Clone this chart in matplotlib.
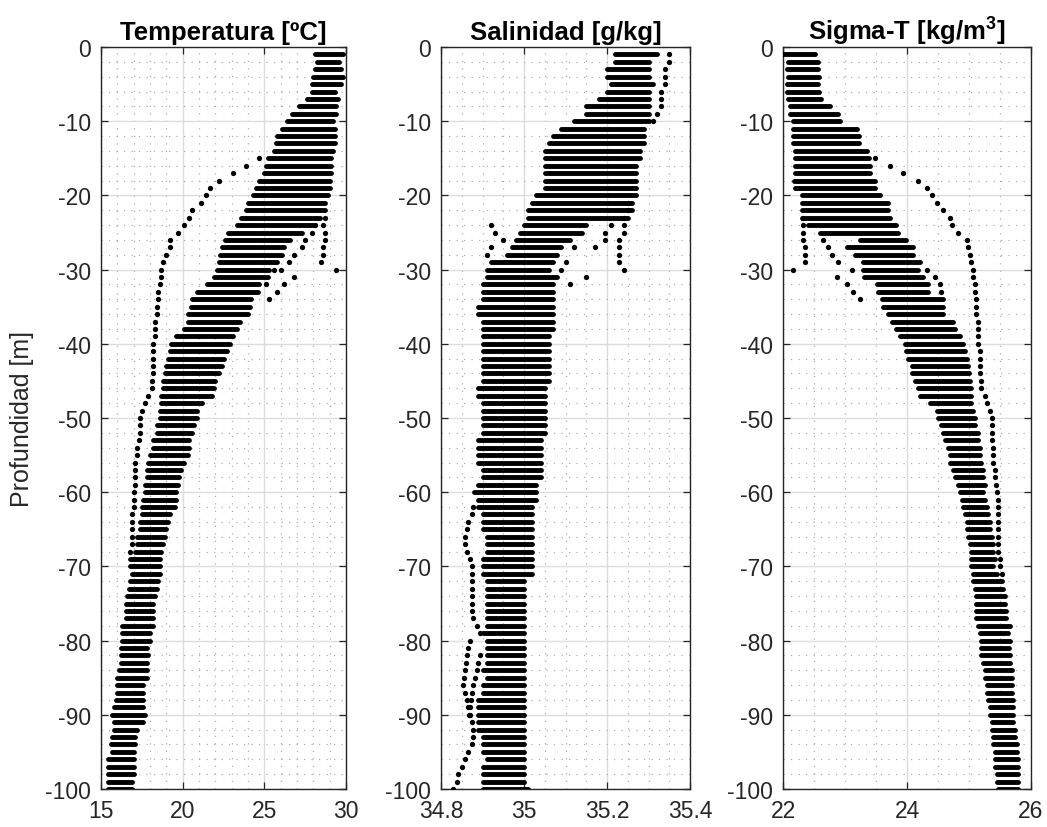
"""
CTD profiles: temperature, salinity and sigma-T vs depth (1 m bins).
Each panel: dense band of casts + a few stray casts drawn as dots.
"""

import numpy as np
import matplotlib
matplotlib.use("Agg")
import matplotlib.pyplot as plt
from matplotlib.ticker import MultipleLocator

plt.rcParams["font.family"] = ["Liberation Sans", "DejaVu Sans"]
plt.rcParams["axes.unicode_minus"] = False
plt.rcParams["mathtext.fontset"] = "custom"
plt.rcParams["mathtext.rm"] = "Liberation Sans"
plt.rcParams["mathtext.bf"] = "Liberation Sans:bold"

# 1 m depth bins, -1 .. -100 m
depth = np.arange(-1, -101, -1)

# ---- temperature [degC]: band edges per bin
temp_left = [28.1, 28.2, 28.1, 28.0, 27.9, 27.9, 27.6, 27.1, 26.7, 26.4,
             26.1, 25.8, 25.7, 25.6, 25.2, 25.1, 25.0, 24.7, 24.5, 24.3,
             24.0, 23.9, 23.6, 23.3, 22.8, 22.6, 22.4, 22.3, 22.2, 22.1,
             21.9, 21.5, 20.9, 20.6, 20.5, 20.3, 20.3, 20.1, 19.6, 19.3,
             19.2, 19.1, 19.0, 18.9, 18.8, 18.8, 18.7, 18.7, 18.6, 18.6,
             18.4, 18.4, 18.2, 18.2, 18.0, 17.9, 17.8, 17.8, 17.7, 17.7,
             17.6, 17.5, 17.5, 17.4, 17.4, 17.2, 17.2, 17.1, 16.8, 16.8,
             16.9, 16.8, 16.7, 16.6, 16.5, 16.5, 16.5, 16.3, 16.3, 16.3,
             16.2, 16.2, 16.2, 16.1, 16.0, 16.0, 16.0, 15.9, 15.8, 15.7,
             15.8, 15.8, 15.7, 15.6, 15.7, 15.4, 15.4, 15.4, 15.4, 15.4]
temp_right = [29.8, 29.6, 29.7, 29.8, 29.7, 29.3, 29.5, 29.4, 29.4, 29.2,
              29.3, 29.3, 29.3, 29.2, 29.1, 29.1, 29.1, 29.0, 29.0, 28.9,
              28.7, 28.7, 28.4, 28.1, 27.3, 26.6, 26.2, 26.1, 25.8, 25.3,
              25.2, 24.7, 24.6, 24.2, 24.1, 24.0, 23.5, 23.3, 23.1, 22.9,
              22.7, 22.5, 22.4, 22.2, 22.0, 21.9, 21.8, 21.2, 20.9, 20.9,
              20.7, 20.6, 20.4, 20.4, 20.3, 20.1, 19.9, 19.8, 19.7, 19.6,
              19.6, 19.5, 19.2, 19.1, 19.0, 18.9, 18.8, 18.7, 18.6, 18.6,
              18.6, 18.5, 18.4, 18.3, 18.2, 18.2, 18.2, 18.2, 18.0, 18.0,
              17.8, 17.9, 17.8, 17.8, 17.8, 17.6, 17.6, 17.6, 17.6, 17.7,
              17.6, 17.2, 17.1, 17.1, 17.0, 17.0, 17.0, 17.0, 16.9, 16.9]
# stray cast, -15 .. -68 m
temp_stray = [24.7, 23.9, 23.1, 22.2, 21.7, 21.4, 21.1, 20.6, 20.4, 20.1,
              19.7, 19.2, 19.2, 19.0, 18.8, 18.7, 18.7, 18.6, 18.5, 18.5,
              18.4, 18.4, 18.3, 18.3, 18.3, 18.2, 18.2, 18.2, 18.2, 18.2,
              18.1, 18.1, 17.9, 17.7, 17.5, 17.4, 17.4, 17.4, 17.3, 17.2,
              17.2, 17.1, 17.1, 17.1, 17.1, 17.0, 17.0, 17.0, 16.9, 16.9,
              16.9, 16.9, 16.9, 16.8]
temp_stray_depth = depth[14:68]
temp_extra_depth = [-23, -24, -25, -26, -27, -28, -29, -30,
                    -24, -25, -26, -27, -28, -29, -30,
                    -31, -32, -33, -34, -30, -32]
temp_extra_value = [28.7, 28.6, 28.7, 28.7, 28.6, 28.6, 28.5, 29.4,
                    28.1, 27.9, 27.5, 27.3, 26.8, 26.5, 26.0,
                    26.8, 26.2, 25.8, 25.3, 25.6, 25.1]

# ---- salinity [g/kg]
sal_left = [35.22, 35.22, 35.20, 35.20, 35.21, 35.20, 35.18, 35.15, 35.15, 35.12,
            35.09, 35.07, 35.06, 35.05, 35.05, 35.05, 35.05, 35.05, 35.05, 35.03,
            35.02, 35.01, 35.01, 35.00, 34.99, 34.98, 34.97, 34.96, 34.92, 34.91,
            34.91, 34.90, 34.90, 34.90, 34.89, 34.89, 34.90, 34.90, 34.90, 34.90,
            34.90, 34.90, 34.90, 34.90, 34.90, 34.89, 34.89, 34.90, 34.90, 34.90,
            34.90, 34.90, 34.89, 34.89, 34.89, 34.89, 34.90, 34.90, 34.89, 34.88,
            34.89, 34.89, 34.90, 34.90, 34.90, 34.91, 34.91, 34.91, 34.90, 34.90,
            34.90, 34.91, 34.91, 34.91, 34.91, 34.91, 34.91, 34.91, 34.90, 34.91,
            34.91, 34.91, 34.91, 34.90, 34.91, 34.90, 34.90, 34.89, 34.89, 34.89,
            34.89, 34.89, 34.90, 34.90, 34.90, 34.91, 34.90, 34.90, 34.90, 34.90]
sal_right = [35.32, 35.30, 35.30, 35.30, 35.31, 35.30, 35.30, 35.30, 35.30, 35.30,
             35.29, 35.29, 35.29, 35.28, 35.28, 35.27, 35.27, 35.27, 35.27, 35.27,
             35.26, 35.26, 35.25, 35.15, 35.14, 35.11, 35.09, 35.08, 35.07, 35.06,
             35.08, 35.07, 35.07, 35.07, 35.07, 35.07, 35.07, 35.07, 35.06, 35.06,
             35.06, 35.06, 35.06, 35.06, 35.06, 35.05, 35.05, 35.05, 35.05, 35.05,
             35.05, 35.05, 35.04, 35.04, 35.04, 35.04, 35.04, 35.04, 35.03, 35.03,
             35.03, 35.02, 35.02, 35.02, 35.02, 35.02, 35.02, 35.02, 35.02, 35.02,
             35.02, 35.00, 35.00, 35.00, 35.00, 35.00, 35.00, 35.00, 35.00, 35.00,
             35.00, 35.00, 35.00, 35.00, 35.00, 35.00, 35.00, 35.00, 35.00, 35.00,
             35.00, 35.00, 35.00, 35.00, 35.00, 35.00, 35.00, 35.00, 35.00, 35.01]
sal_stray_top = [35.35, 35.35, 35.34, 35.34, 35.34, 35.33, 35.33, 35.33, 35.32, 35.31]
sal_stray_top_depth = depth[0:10]
sal_stray_a = [34.878, 34.874, 34.866, 34.862, 34.858, 34.858, 34.862, 34.870, 34.874,
               34.874, 34.874, 34.874, 34.874, 34.874, 34.874, 34.878, 34.886, 34.894]
sal_stray_a_depth = depth[61:79]
sal_stray_b = [34.870, 34.866, 34.862, 34.860, 34.858, 34.855, 34.854, 34.858, 34.862,
               34.866, 34.870, 34.874, 34.878, 34.878, 34.874, 34.866, 34.858, 34.850,
               34.842, 34.838, 34.830]
sal_stray_b_depth = depth[79:100]
sal_stray_c = [34.894, 34.890, 34.886, 34.882, 34.878, 34.874, 34.872, 34.870, 34.868]
sal_stray_c_depth = depth[81:90]
sal_extra_depth = [-21, -22, -23, -24, -25, -26, -27, -28, -29, -30,
                   -24, -25, -26, -27, -27, -29, -30, -31, -32,
                   -24, -25, -26, -27, -28]
sal_extra_value = [35.25, 35.25, 35.24, 35.24, 35.24, 35.23, 35.23, 35.23, 35.23, 35.24,
                   35.21, 35.195, 35.195, 35.17, 35.12, 35.10, 35.09, 35.15, 35.11,
                   34.92, 34.93, 34.95, 34.92, 34.91]

# ---- sigma-T [kg/m3]
sig_left = [22.00, 22.08, 22.06, 22.08, 22.06, 22.06, 22.08, 22.11, 22.11, 22.16,
            22.16, 22.16, 22.16, 22.19, 22.19, 22.19, 22.19, 22.17, 22.20, 22.30,
            22.30, 22.30, 22.30, 22.40, 22.60, 23.24, 23.03, 23.16, 23.29, 23.29,
            23.30, 23.51, 23.53, 23.59, 23.62, 23.70, 23.75, 23.83, 23.89, 23.97,
            23.99, 24.02, 24.08, 24.08, 24.13, 24.18, 24.21, 24.37, 24.48, 24.50,
            24.55, 24.58, 24.61, 24.66, 24.69, 24.69, 24.74, 24.77, 24.82, 24.85,
            24.88, 24.91, 24.94, 24.96, 24.96, 24.99, 25.02, 25.04, 25.04, 25.04,
            25.07, 25.07, 25.10, 25.12, 25.12, 25.12, 25.12, 25.15, 25.18, 25.20,
            25.20, 25.20, 25.23, 25.26, 25.26, 25.29, 25.29, 25.31, 25.34, 25.34,
            25.37, 25.37, 25.39, 25.39, 25.42, 25.42, 25.42, 25.45, 25.45, 25.47]
sig_right = [22.52, 22.56, 22.56, 22.58, 22.56, 22.58, 22.61, 22.76, 22.89, 22.92,
             23.20, 23.22, 23.22, 23.36, 23.38, 23.40, 23.40, 23.48, 23.48, 23.56,
             23.69, 23.69, 23.72, 23.83, 23.86, 23.99, 24.10, 24.10, 24.21, 24.18,
             24.26, 24.34, 24.34, 24.58, 24.58, 24.58, 24.74, 24.77, 24.85, 24.90,
             24.94, 24.96, 24.98, 25.00, 25.02, 25.04, 25.04, 25.04, 25.07, 25.10,
             25.10, 25.15, 25.15, 25.18, 25.18, 25.20, 25.23, 25.23, 25.26, 25.23,
             25.26, 25.29, 25.31, 25.34, 25.34, 25.37, 25.39, 25.39, 25.42, 25.39,
             25.45, 25.53, 25.55, 25.58, 25.58, 25.60, 25.60, 25.66, 25.63, 25.66,
             25.64, 25.66, 25.66, 25.69, 25.69, 25.69, 25.69, 25.71, 25.71, 25.71,
             25.71, 25.74, 25.74, 25.77, 25.77, 25.79, 25.79, 25.79, 25.79, 25.79]
# stray cast, -15 .. -71 m
sig_stray = [23.48, 23.72, 23.93, 24.18, 24.32, 24.40, 24.48, 24.58, 24.69, 24.72,
             24.83, 24.96, 24.99, 25.01, 25.04, 25.07, 25.07, 25.10, 25.10, 25.12,
             25.12, 25.12, 25.15, 25.15, 25.15, 25.15, 25.18, 25.18, 25.18, 25.18,
             25.20, 25.20, 25.26, 25.29, 25.34, 25.37, 25.37, 25.37, 25.37, 25.39,
             25.39, 25.39, 25.42, 25.42, 25.44, 25.45, 25.47, 25.47, 25.47, 25.47,
             25.47, 25.47, 25.47, 25.47, 25.50, 25.50, 25.53]
sig_stray_depth = depth[14:71]
sig_extra_depth = [-23, -24, -25, -26, -27, -28, -29, -30,
                   -26, -27, -28, -29, -30,
                   -31, -32, -33, -34,
                   -30, -31, -32, -33]
sig_extra_value = [22.33, 22.33, 22.33, 22.33, 22.35, 22.36, 22.36, 22.16,
                   22.65, 22.72, 22.79, 22.89, 23.11,
                   22.87, 23.03, 23.13, 23.24,
                   24.32, 24.45, 24.53, 24.55]

panels = [
    dict(title="Temperatura [ºC]", left=temp_left, right=temp_right,
         strays=[(temp_stray, temp_stray_depth), (temp_extra_value, temp_extra_depth)],
         xlim=(15, 30), minor=1, ticks=[15, 20, 25, 30],
         labels=["15", "20", "25", "30"]),
    dict(title="Salinidad [g/kg]", left=sal_left, right=sal_right,
         strays=[(sal_stray_top, sal_stray_top_depth), (sal_stray_a, sal_stray_a_depth),
                 (sal_stray_b, sal_stray_b_depth), (sal_stray_c, sal_stray_c_depth),
                 (sal_extra_value, sal_extra_depth)],
         xlim=(34.8, 35.4), minor=0.05, ticks=[34.8, 35.0, 35.2, 35.4],
         labels=["34.8", "35", "35.2", "35.4"]),
    dict(title=r"Sigma-T [kg/m$^\mathbf{3}$]", left=sig_left, right=sig_right,
         strays=[(sig_stray, sig_stray_depth), (sig_extra_value, sig_extra_depth)],
         xlim=(22, 26), minor=0.5, ticks=[22, 24, 26],
         labels=["22", "24", "26"]),
]

W, H = 1047, 828
fig = plt.figure(figsize=(W / 100, H / 100), dpi=100)
lefts = [101, 441, 783]
widths = [245, 249, 248]
ink = "#262626"

for i, p in enumerate(panels):
    ax = fig.add_axes([lefts[i] / W, (H - 790) / H, widths[i] / W, 742 / H])
    ax.set_axisbelow(True)
    ax.hlines(depth, p["left"], p["right"], colors="black", linewidth=3.5,
              capstyle="round", zorder=3)
    for vals, dep in p["strays"]:
        ax.plot(vals, dep, linestyle="none", marker="o", markersize=3.8,
                markeredgewidth=0, color="black", zorder=4)

    ax.set_xlim(*p["xlim"])
    ax.set_ylim(-100, 0)
    ax.set_xticks(p["ticks"])
    ax.set_xticklabels(p["labels"])
    ax.set_yticks(np.arange(-100, 1, 10))
    ax.xaxis.set_minor_locator(MultipleLocator(p["minor"]))
    ax.yaxis.set_minor_locator(MultipleLocator(2))

    ax.grid(which="major", color="#dcdcdc", linewidth=1.0)
    ax.grid(which="minor", color="#b0b0b0", linewidth=0.9, linestyle=(0, (1, 5)))
    ax.tick_params(which="major", direction="in", length=5, width=0.9,
                   top=True, right=True, color=ink, labelcolor=ink,
                   labelsize=16.5, pad=7)
    ax.tick_params(which="minor", length=0)
    for s in ax.spines.values():
        s.set_color(ink)
        s.set_linewidth(1.0)

    ax.set_title(p["title"], fontsize=18.5, fontweight="bold", pad=6)
    if i == 0:
        ax.set_ylabel("Profundidad [m]", fontsize=18, color=ink, labelpad=8)

fig.savefig("out.png", dpi=100)
